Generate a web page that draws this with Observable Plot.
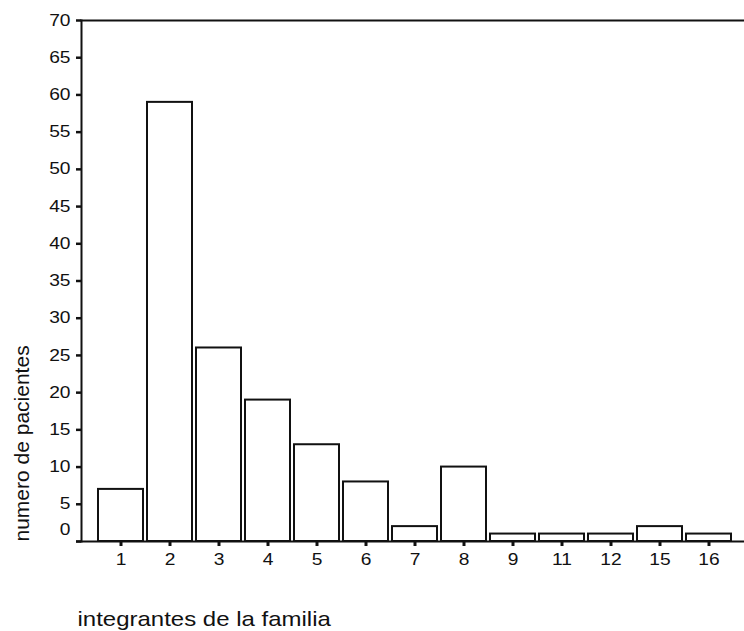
<!DOCTYPE html>
<html><head><meta charset="utf-8">
<script src="https://cdn.jsdelivr.net/npm/d3@7"></script>
<script src="https://cdn.jsdelivr.net/npm/@observablehq/plot@0.6"></script>
<style>body{margin:0;background:#fff}</style>
</head><body><div id="chart"></div>
<script>
const categories = ["1","2","3","4","5","6","7","8","9","11","12","15","16"];
const patients = [7,59,26,19,13,8,2,10,1,1,1,2,1];
const yTicks = [0,5,10,15,20,25,30,35,40,45,50,55,60,65,70];
const yTitle = "numero de pacientes";
const xTitle = "integrantes de la familia";

const data = categories.map((c, i) => ({size: c, count: patients[i]}));

const chart = Plot.plot({
  width: 744, height: 631,
  marginLeft: 81, marginRight: 0, marginTop: 20, marginBottom: 90,
  style: {fontFamily: "'Liberation Sans', Arial, sans-serif", background: "white", color: "#111", fontSize: "16px"},
  x: {type: "band", domain: categories, padding: 0.08, paddingOuter: 0.04, insetLeft: 11, insetRight: 6},
  y: {domain: [0, 70]},
  marks: [
    Plot.barY(data, {x: "size", y: "count", fill: "white", stroke: "#111", strokeWidth: 2}),
    Plot.frame({anchor: "left", strokeWidth: 2}),
    Plot.frame({anchor: "top", strokeWidth: 2}),
    Plot.ruleY([0], {insetLeft: -5, strokeWidth: 2}),
    Plot.axisY({ticks: yTicks, tickSize: 5, tickPadding: 6, strokeWidth: 2.5, fontSize: 16,
      tickFormat: d => d === 0 ? "" : String(d), label: null}),
    Plot.axisY({ticks: [0], tickSize: 0, tickPadding: 11, dy: -12, fontSize: 16, label: null}),
    Plot.axisX({tickSize: 5, tickPadding: 7, strokeWidth: 3, fontSize: 16, label: null}),
    Plot.text([yTitle], {frameAnchor: "bottom-left", rotate: -90, textAnchor: "start", lineAnchor: "middle",
      dx: -59, dy: 0, fontSize: 21, fill: "#111"}),
    Plot.text([xTitle], {frameAnchor: "bottom-left", textAnchor: "start", lineAnchor: "middle",
      dx: -4, dy: 78, fontSize: 20, fill: "#111"})
  ]
});
document.getElementById("chart").appendChild(chart);

function stretchOne(el, k) {
  const t = el.getAttribute("transform");
  if (t) el.setAttribute("transform", t + ` scale(${k},1)`);
  else {
    const x = +(el.getAttribute("x") || 0), y = +(el.getAttribute("y") || 0);
    el.setAttribute("transform", `translate(${x},${y}) scale(${k},1) translate(${-x},${-y})`);
  }
}
d3.select(chart).selectAll('g[aria-label="x-axis tick label"], g[aria-label="y-axis tick label"]')
  .attr("font-size", 16)
  .selectAll("text").each(function() { stretchOne(this, 1.2); });
d3.select(chart).selectAll('g[aria-label="text"] text').each(function() {
  if (this.textContent === xTitle) stretchOne(this, 1.2);
});
</script></body></html>
